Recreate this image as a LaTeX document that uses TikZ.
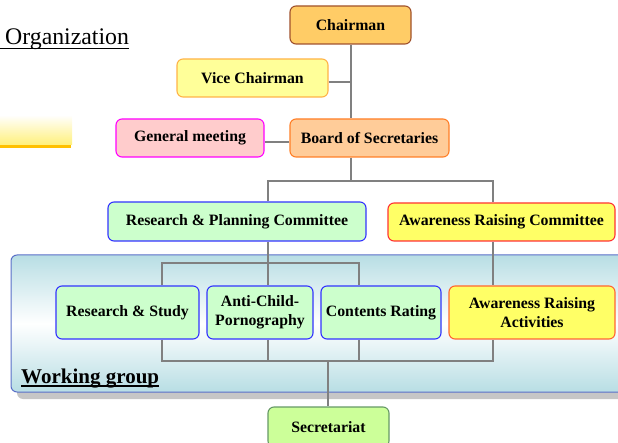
\documentclass[tikz,border=0pt]{standalone}
\usepackage{fontspec}
\setmainfont{Liberation Serif}
\definecolor{chairfill}{HTML}{FFCC66}
\definecolor{chairdraw}{HTML}{A0522D}
\definecolor{vicefill}{HTML}{FFFF99}
\definecolor{vicedraw}{HTML}{FFB347}
\definecolor{boardfill}{HTML}{FFCC99}
\definecolor{boarddraw}{HTML}{FF7F27}
\definecolor{gmfill}{HTML}{FFCCCC}
\definecolor{gmdraw}{HTML}{FF00FF}
\definecolor{greenfill}{HTML}{CCFFCC}
\definecolor{bluedraw}{HTML}{3333FF}
\definecolor{yelfill}{HTML}{FFFF66}
\definecolor{arcdraw}{HTML}{FF3333}
\definecolor{aradraw}{HTML}{FF6633}
\definecolor{secfill}{HTML}{CCFF99}
\definecolor{secdraw}{HTML}{669966}
\definecolor{wgblue}{HTML}{B8DEE4}
\definecolor{wgdraw}{HTML}{5A6FC8}
\definecolor{linegray}{HTML}{808080}
\definecolor{baryellow}{HTML}{FFF07A}
\definecolor{barorange}{HTML}{FFC000}
\tikzset{
  box/.style={rectangle, rounded corners=6pt, line width=1.1pt, inner sep=1pt,
    align=center, font=\bfseries\fontsize{15.8}{19}\selectfont},
  conn/.style={draw=linegray, line width=2.8pt}
}
\begin{document}
\begin{tikzpicture}[x=1pt,y=-1pt]
\useasboundingbox (0,0) rectangle (618,443);
\clip (0,0) rectangle (618,443);
% title fragment
\node[anchor=base west, inner sep=0pt, font=\fontsize{23.8}{28}\selectfont] (title) at (5,45) {Organization};
\draw[line width=1.3pt] (0,48.5) -- (title.east |- 0,48.5);
% yellow bar
\shade[top color=white, bottom color=baryellow] (0,115) rectangle (72,145);
\fill[barorange] (0,145.5) rectangle (71,148);
% working group
\fill[gray!45, rounded corners=6pt] (17,262) rectangle (650,399);
\shade[top color=wgblue, bottom color=wgblue, middle color=white, rounded corners=6pt] (11,255) rectangle (640,392);
\draw[wgdraw, line width=1pt, rounded corners=6pt] (11,255) rectangle (640,392);
\node[anchor=base west, inner sep=0pt, font=\bfseries\fontsize{21}{24}\selectfont] (wg) at (21,383) {Working group};
\draw[line width=1.3pt] (wg.base west) ++(0,3) -- ([yshift=-3pt]wg.base east);
% nodes
\node[box, fill=chairfill, draw=chairdraw, minimum width=121pt, minimum height=38pt] (chair) at (350.5,25) {Chairman};
\node[box, fill=vicefill, draw=vicedraw, minimum width=151pt, minimum height=38pt] (vice) at (252.5,78) {Vice Chairman};
\node[box, fill=boardfill, draw=boarddraw, minimum width=159pt, minimum height=38pt] (board) at (369.5,138) {Board of Secretaries};
\node[box, fill=gmfill, draw=gmdraw, minimum width=148pt, minimum height=38pt] (gm) at (190,138) {General meeting};
\node[box, fill=greenfill, draw=bluedraw, minimum width=258pt, minimum height=39pt] (rpc) at (237,221.5) {Research \& Planning Committee};
\node[box, fill=yelfill, draw=arcdraw, minimum width=227pt, minimum height=38pt] (arc) at (501.5,222) {Awareness Raising Committee};
\node[box, fill=greenfill, draw=bluedraw, minimum width=143pt, minimum height=53pt] (rs) at (127.5,312.5) {Research \& Study};
\node[box, fill=greenfill, draw=bluedraw, minimum width=106pt, minimum height=53pt] (acp) at (260,312.5) {Anti-Child-\\Pornography};
\node[box, fill=greenfill, draw=bluedraw, minimum width=120pt, minimum height=53pt] (cr) at (381,312.5) {Contents Rating};
\node[box, fill=yelfill, draw=aradraw, minimum width=166pt, minimum height=53pt] (ara) at (532,312.5) {Awareness Raising\\Activities};
\node[box, fill=secfill, draw=secdraw, minimum width=121pt, minimum height=40pt] (sec) at (328.5,427) {Secretariat};
% junction coordinates
\coordinate (cx) at (351,0);
\coordinate (b1) at (351,181);
\coordinate (hL) at (268,181);
\coordinate (hR) at (493,181);
\coordinate (tL) at (162,263);
\coordinate (tR) at (359,263);
\coordinate (bL) at (162,361);
\coordinate (bR) at (493,361);
\coordinate (bS) at (328,361);
% connectors
\draw[conn] (chair.south -| cx) -- (board.north -| cx);
\draw[conn] ([yshift=-4pt]vice.east) -- ([yshift=-4pt]vice.east -| cx);
\draw[conn] ([yshift=-4pt]gm.east) -- ([yshift=-4pt]board.west);
\draw[conn] (board.south -| cx) -- (b1);
\draw[conn] (hL |- rpc.north) -- (hL) -- (hR) -- (hR |- arc.north);
\draw[conn] (hL |- rpc.south) -- (hL |- acp.north);
\draw[conn] (hR |- arc.south) -- (hR |- ara.north);
\draw[conn] (tL |- rs.north) -- (tL) -- (tR) -- (tR |- cr.north);
\draw[conn] (tL |- rs.south) -- (bL) -- (bR) -- (bR |- ara.south);
\draw[conn] (hL |- acp.south) -- (hL |- bL);
\draw[conn] (tR |- cr.south) -- (tR |- bL);
\draw[conn] (bS) -- (bS |- sec.north);
\end{tikzpicture}
\end{document}
